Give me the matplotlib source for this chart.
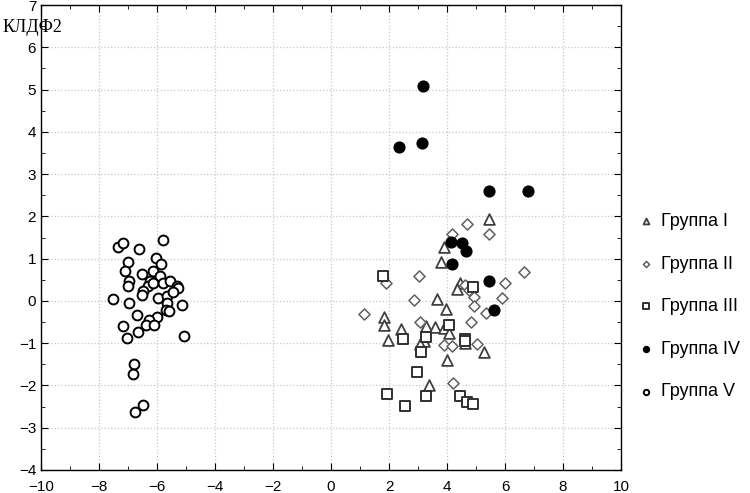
import numpy as np
import matplotlib
import matplotlib.pyplot as plt
from matplotlib.ticker import MultipleLocator

# Группа I (треугольники)
g1_x = [5.46, 3.91, 3.79, 4.45, 4.33, 3.67, 3.95, 1.84, 1.84, 2.41, 1.95, 3.28, 3.59,
        3.91, 4.08, 3.21, 3.07, 4.62, 5.28, 3.99, 3.38]
g1_y = [1.95, 1.27, 0.93, 0.42, 0.28, 0.04, -0.20, -0.37, -0.57, -0.66, -0.92, -0.59, -0.62,
        -0.65, -0.76, -0.96, -1.02, -0.99, -1.20, -1.39, -1.99]

# Группа II (ромбы)
g2_x = [4.70, 5.46, 4.16, 3.05, 1.90, 6.66, 6.00, 5.91, 2.87, 4.62, 4.76, 4.93, 4.93,
        5.34, 1.14, 3.07, 4.82, 3.91, 4.16, 5.02, 4.22]
g2_y = [1.82, 1.58, 1.58, 0.59, 0.42, 0.69, 0.42, 0.06, 0.02, 0.38, 0.26, 0.09, -0.13,
        -0.29, -0.31, -0.51, -0.49, -1.04, -1.06, -1.02, -1.95]

# Группа III (квадраты)
g3_x = [1.80, 4.91, 4.07, 2.49, 3.28, 4.62, 4.62, 3.09, 2.98, 1.94, 3.28, 4.45, 2.55, 4.68, 4.89]
g3_y = [0.59, 0.32, -0.57, -0.91, -0.86, -0.91, -0.96, -1.22, -1.69, -2.20, -2.26, -2.25,
        -2.48, -2.38, -2.43]

# Группа IV (закрашенные круги)
g4_x = [3.16, 2.36, 3.15, 5.46, 6.80, 4.13, 4.51, 4.66, 4.17, 5.46, 5.62]
g4_y = [5.08, 3.65, 3.73, 2.61, 2.59, 1.39, 1.36, 1.19, 0.87, 0.48, -0.21]

# Группа V (пустые круги)
g5_x = [-7.33, -7.16, -6.61, -5.78, -7.01, -7.10, -6.05, -5.87, -6.51, -6.13, -6.95, -6.99,
        -5.90, -6.24, -6.30, -6.13, -5.78, -5.55, -5.30, -5.27, -6.47, -6.53, -7.53, -6.97,
        -5.95, -5.67, -5.44, -5.67, -5.13, -5.69, -5.59, -6.68, -6.01, -6.27, -6.38, -6.09,
        -7.18, -6.64, -7.02, -5.06, -6.78, -6.84, -6.49, -6.76]
g5_y = [1.27, 1.36, 1.22, 1.43, 0.93, 0.71, 1.01, 0.87, 0.64, 0.71, 0.46, 0.36,
        0.60, 0.46, 0.35, 0.42, 0.42, 0.46, 0.36, 0.30, 0.24, 0.14, 0.05, -0.04,
        0.06, 0.12, 0.22, -0.04, -0.09, -0.21, -0.24, -0.33, -0.39, -0.45, -0.57, -0.58,
        -0.59, -0.74, -0.88, -0.83, -1.49, -1.73, -2.46, -2.63]

matplotlib.rcParams['font.family'] = ['Liberation Sans', 'DejaVu Sans']

fig = plt.figure(figsize=(7.5, 4.93), dpi=100)
ax = fig.add_axes([0.0547, 0.0467, 0.7733, 0.943])

ax.scatter(g1_x, g1_y, marker='^', s=60, facecolors='white', edgecolors='#404040',
           linewidths=1.3, label='Группа I', zorder=3)
ax.scatter(g2_x, g2_y, marker='D', s=32, facecolors='white', edgecolors='#606060',
           linewidths=1.1, label='Группа II', zorder=3)
ax.scatter(g3_x, g3_y, marker='s', s=60, facecolors='white', edgecolors='#303030',
           linewidths=1.4, label='Группа III', zorder=3)
ax.scatter(g4_x, g4_y, marker='o', s=60, facecolors='black', edgecolors='black',
           label='Группа IV', zorder=4)
ax.scatter(g5_x, g5_y, marker='o', s=50, facecolors='white', edgecolors='black',
           linewidths=1.4, label='Группа V', zorder=3)

ax.set_xlim(-10, 10)
ax.set_ylim(-4, 7)
ax.xaxis.set_major_locator(MultipleLocator(2))
ax.xaxis.set_minor_locator(MultipleLocator(1))
ax.yaxis.set_major_locator(MultipleLocator(1))
ax.yaxis.set_minor_locator(MultipleLocator(0.5))
ax.tick_params(which='both', direction='in', top=True, right=True, labelsize=11)
ax.tick_params(which='major', length=5)
ax.tick_params(which='minor', length=3)
ax.tick_params(axis='x', which='major', pad=7)
ax.grid(True, which='major', color='#c8c8c8', linestyle=':', linewidth=0.9)
for sp in ax.spines.values():
    sp.set_linewidth(1.0)

fig.text(0.004, 0.945, 'КЛДФ2', family='Liberation Serif', fontsize=13, va='center', ha='left')

leg = ax.legend(loc='upper left', bbox_to_anchor=(1.0, 0.588), frameon=False,
                fontsize=13, markerscale=0.55, handletextpad=0.3, labelspacing=1.42,
                handlelength=1.0)

plt.savefig('out.png', dpi=100)
